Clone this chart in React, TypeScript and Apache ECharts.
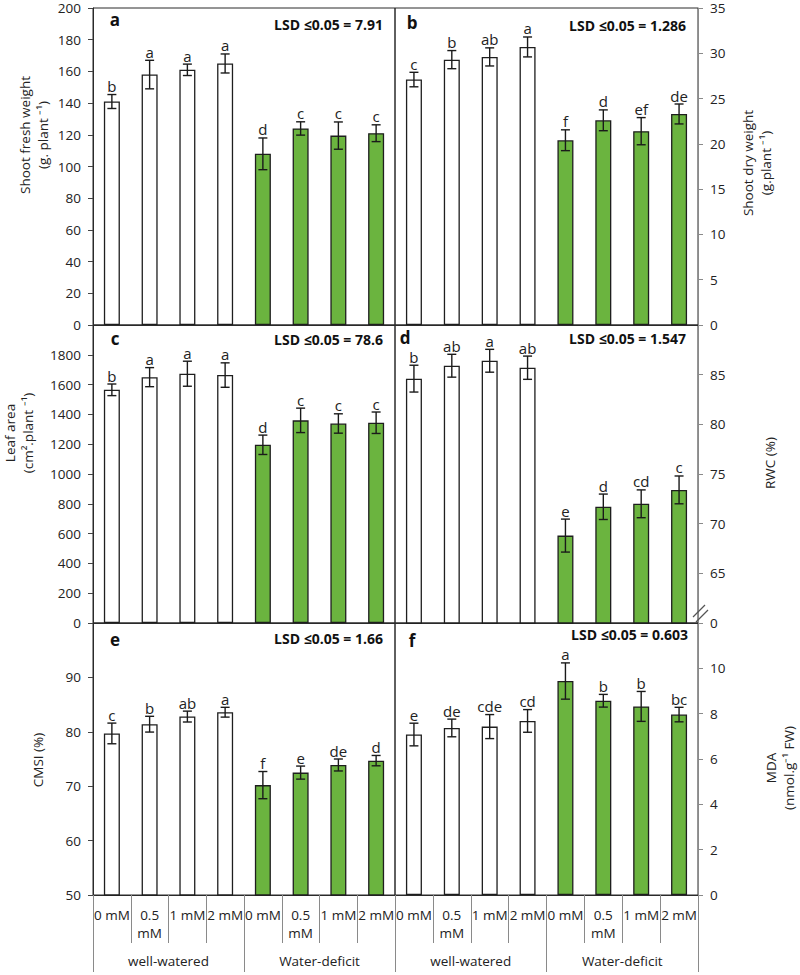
import React, { useEffect, useRef } from "react";
import * as echarts from "echarts";

const categories = ["0 mM", "0.5\nmM", "1 mM", "2 mM", "0 mM", "0.5\nmM", "1 mM", "2 mM"];
const groups = ["well-watered", "Water-deficit"];

const shootFresh = [141, 158, 161, 165, 108, 124, 119.5, 121];
const shootFreshErr = [4.4, 9, 3.6, 6, 10, 4.2, 8.6, 5.3];
const shootFreshLetters = ["b", "a", "a", "a", "d", "c", "c", "c"];

const shootDry = [27.1, 29.3, 29.6, 30.7, 20.4, 22.6, 21.4, 23.3];
const shootDryErr = [0.8, 1.0, 1.0, 1.1, 1.15, 1.15, 1.5, 1.1];
const shootDryLetters = ["c", "b", "ab", "a", "f", "d", "ef", "de"];

const leafArea = [1565, 1650, 1673, 1664, 1196, 1360, 1339, 1344];
const leafAreaErr = [39, 64, 84, 82, 65, 82, 65, 72];
const leafAreaLetters = ["b", "a", "a", "a", "d", "c", "c", "c"];

const rwc = [84.6, 85.9, 86.4, 85.7, 68.8, 71.7, 72.0, 73.4];
const rwcErr = [1.35, 1.15, 1.15, 1.17, 1.66, 1.28, 1.4, 1.4];
const rwcLetters = ["b", "ab", "a", "ab", "e", "d", "cd", "c"];

const cmsi = [79.7, 81.4, 82.8, 83.6, 70.2, 72.5, 73.9, 74.7];
const cmsiErr = [1.9, 1.45, 1.0, 0.9, 2.5, 1.2, 1.1, 0.95];
const cmsiLetters = ["c", "b", "ab", "a", "f", "e", "de", "d"];

const mda = [7.08, 7.37, 7.43, 7.68, 9.44, 8.57, 8.32, 7.96];
const mdaErr = [0.5, 0.39, 0.53, 0.5, 0.8, 0.28, 0.66, 0.32];
const mdaLetters = ["e", "de", "cde", "cd", "a", "b", "b", "bc"];

const panelIds = ["a", "b", "c", "d", "e", "f"];
const lsdValues = ["7.91", "1.286", "78.6", "1.547", "1.66", "0.603"];
const yTitles = [
  "Shoot fresh weight\n(g. plant \u207B\u00B9)",
  "Shoot dry weight\n(g.plant \u207B\u00B9)",
  "Leaf area\n(cm\u00B2.plant \u207B\u00B9)",
  "RWC (%)",
  "CMSI (%)",
  "MDA\n(nmol.g\u207B\u00B9 FW)",
];
const yMin = [0, 0, 0, 60, 50, 0];
const yMax = [200, 35, 2000, 90, 100, 12];
const yInterval = [20, 5, 200, 5, 10, 2];

const panelValues = [shootFresh, shootDry, leafArea, rwc, cmsi, mda];
const panelErrs = [shootFreshErr, shootDryErr, leafAreaErr, rwcErr, cmsiErr, mdaErr];
const panelLetters = [shootFreshLetters, shootDryLetters, leafAreaLetters, rwcLetters, cmsiLetters, mdaLetters];

const FONT = "'Open Sans', sans-serif";
const GREEN = "#6bb43f";

export default function App() {
  const ref = useRef<HTMLDivElement>(null);

  useEffect(() => {
    document.body.style.margin = "0";
    if (!ref.current) return;
    const chart = echarts.init(ref.current, undefined, { renderer: "svg" });

    const grids = [
      { left: 93, top: 8, width: 302, height: 317 },
      { left: 395, top: 8, width: 303, height: 317 },
      { left: 93, top: 325, width: 302, height: 298 },
      { left: 395, top: 325, width: 303, height: 298 },
      { left: 93, top: 623, width: 302, height: 272 },
      { left: 395, top: 623, width: 303, height: 272 },
    ].map((g) => ({ ...g, show: true, borderColor: "#2a2a2a", borderWidth: 1, containLabel: false }));

    const xAxes: any[] = [];
    for (let p = 0; p < 6; p++) {
      const bottom = p >= 4;
      xAxes.push({
        type: "category",
        gridIndex: p,
        data: categories,
        position: "bottom",
        axisLine: { show: true, lineStyle: { color: "#2a2a2a", width: 1 } },
        axisTick: bottom
          ? { show: true, interval: 0, length: 48, lineStyle: { color: "#8a8a8a" } }
          : { show: false },
        axisLabel: bottom
          ? { show: true, interval: 0, fontSize: 13.5, lineHeight: 18, margin: 11, color: "#222", fontFamily: FONT }
          : { show: false },
        splitLine: { show: false },
      });
    }
    for (const p of [4, 5]) {
      xAxes.push({
        type: "category",
        gridIndex: p,
        data: groups,
        position: "bottom",
        axisLine: { show: false },
        axisTick: { show: true, interval: 0, length: 77, lineStyle: { color: "#8a8a8a" } },
        axisLabel: { show: true, interval: 0, fontSize: 13.5, margin: 59, color: "#222", fontFamily: FONT },
        splitLine: { show: false },
      });
    }

    const yAxes: any[] = [];
    for (let p = 0; p < 6; p++) {
      const right = p % 2 === 1;
      yAxes.push({
        type: "value",
        gridIndex: p,
        position: right ? "right" : "left",
        min: yMin[p],
        max: yMax[p],
        interval: yInterval[p],
        axisLine: { show: true, lineStyle: { color: right ? "#8a8a8a" : "#2a2a2a", width: 1 } },
        axisTick: { show: true, inside: false, length: 5, lineStyle: { color: right ? "#8a8a8a" : "#444" } },
        axisLabel: {
          show: true,
          fontSize: 13.5,
          margin: 12,
          color: "#222",
          fontFamily: FONT,
          showMaxLabel: p === 0 || p === 1,
          formatter: (v: number) => (p === 3 && v === 60 ? "0" : String(v)),
        },
        splitLine: { show: false },
      });
    }

    const series: any[] = [];
    for (let p = 0; p < 6; p++) {
      const vals = panelValues[p];
      const errs = panelErrs[p];
      const letters = panelLetters[p];
      series.push({
        type: "bar",
        xAxisIndex: p,
        yAxisIndex: p,
        barWidth: 16,
        data: vals.map((v, i) => ({
          value: v,
          itemStyle: { color: i < 4 ? "#ffffff" : GREEN, borderColor: "#1e1e1e", borderWidth: 1.3 },
        })),
        z: 2,
      });
      series.push({
        type: "custom",
        xAxisIndex: p,
        yAxisIndex: p,
        clip: false,
        z: 5,
        data: vals.map((v, i) => [i, v, errs[i]]),
        renderItem: (params: any, api: any) => {
          const i = api.value(0);
          const v = api.value(1);
          const e = api.value(2);
          const top = api.coord([i, v + e]);
          const bot = api.coord([i, v - e]);
          const x = top[0];
          const cap = 4.5;
          const ls = { stroke: "#1a1a1a", lineWidth: 1.4 };
          return {
            type: "group",
            children: [
              { type: "line", shape: { x1: x, y1: top[1], x2: x, y2: bot[1] }, style: ls },
              { type: "line", shape: { x1: x - cap, y1: top[1], x2: x + cap, y2: top[1] }, style: ls },
              { type: "line", shape: { x1: x - cap, y1: bot[1], x2: x + cap, y2: bot[1] }, style: ls },
              {
                type: "text",
                x: x,
                y: top[1] - 1,
                style: {
                  text: letters[params.dataIndex],
                  fill: "#222",
                  fontSize: 15,
                  fontFamily: FONT,
                  align: "center",
                  verticalAlign: "bottom",
                },
              },
            ],
          };
        },
      });
    }

    const graphics: any[] = [];
    const letterPos = [
      [115, 19],
      [412, 22],
      [115, 338],
      [405, 337],
      [115, 639],
      [412, 640],
    ];
    const lsdPos = [
      [383, 24],
      [686, 25],
      [383, 339],
      [686, 338],
      [383, 638],
      [688, 634],
    ];
    for (let p = 0; p < 6; p++) {
      graphics.push({
        type: "text",
        x: letterPos[p][0],
        y: letterPos[p][1],
        style: {
          text: panelIds[p],
          fontSize: 17,
          fontWeight: "bold",
          fontFamily: FONT,
          fill: "#111",
          align: "center",
          verticalAlign: "middle",
        },
        z: 10,
      });
      graphics.push({
        type: "text",
        x: lsdPos[p][0],
        y: lsdPos[p][1],
        style: {
          text: "LSD \u22640.05 = " + lsdValues[p],
          fontSize: 14,
          fontWeight: "bold",
          fontFamily: FONT,
          fill: "#111",
          align: "right",
          verticalAlign: "middle",
        },
        z: 10,
      });
    }
    const titlePos = [
      [34, 135],
      [757, 163],
      [19, 433],
      [770, 463],
      [38, 760],
      [780, 768],
    ];
    for (let p = 0; p < 6; p++) {
      graphics.push({
        type: "text",
        x: titlePos[p][0],
        y: titlePos[p][1],
        rotation: Math.PI / 2,
        style: {
          text: yTitles[p],
          fontSize: 13.5,
          lineHeight: 18,
          fontFamily: FONT,
          fill: "#222",
          align: "center",
          verticalAlign: "middle",
        },
        z: 10,
      });
    }
    graphics.push({
      type: "line",
      shape: { x1: 693, y1: 617, x2: 705, y2: 605 },
      style: { stroke: "#555", lineWidth: 1.2 },
      z: 10,
    });
    graphics.push({
      type: "line",
      shape: { x1: 696, y1: 622, x2: 708, y2: 610 },
      style: { stroke: "#555", lineWidth: 1.2 },
      z: 10,
    });

    chart.setOption({
      animation: false,
      backgroundColor: "#ffffff",
      textStyle: { fontFamily: FONT },
      grid: grids,
      xAxis: xAxes,
      yAxis: yAxes,
      series,
      graphic: graphics,
    });

    return () => chart.dispose();
  }, []);

  return <div ref={ref} style={{ width: 800, height: 975 }} />;
}
